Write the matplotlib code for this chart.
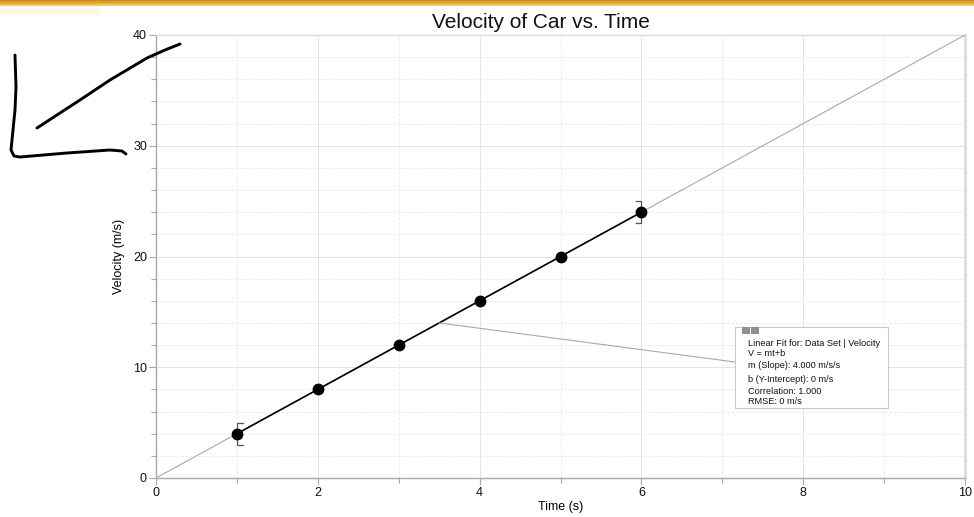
import matplotlib
matplotlib.use("Agg")
import matplotlib.pyplot as plt
import numpy as np
from matplotlib.lines import Line2D
from matplotlib.patches import Rectangle
from matplotlib.colors import LinearSegmentedColormap

plt.rcParams['font.family'] = ['Liberation Sans', 'DejaVu Sans']

# ---------------- data ----------------
time_s = [1, 2, 3, 4, 5, 6]
velocity = [4, 8, 12, 16, 20, 24]
err_x = [1, 6]
err_y = [4, 24]
err_size = [1, 1]
err_dir = [1, -1]          # bracket opening direction
fit_slope = 4.0
fit_intercept = 0.0
fit_range = [0, 10]
fit_data_range = [1, 6]
leader_start = [3.5, 14]
x_ticks = [0, 2, 4, 6, 8, 10]
y_ticks = [0, 10, 20, 30, 40]
box_lines = ["Linear Fit for: Data Set | Velocity", "V = mt+b",
             "m (Slope): 4.000 m/s/s", "b (Y-Intercept): 0 m/s",
             "Correlation: 1.000", "RMSE: 0 m/s"]
# hand-drawn arrow strokes (figure pixels, y from top)
stroke1 = [(37, 128), (60, 113), (80, 100), (110, 80), (147, 58), (165, 50), (180, 44)]
stroke2 = [(15, 55), (16, 87), (15, 110), (13, 130), (11, 150), (14, 156), (20, 157),
           (67, 153), (110, 150), (122, 151), (126, 154)]

W, H = 974, 517
fig = plt.figure(figsize=(W / 100, H / 100), dpi=100)

def fx(px):
    return px / W

def fy(py):
    return 1 - py / H

L, R, T, B = 156, 965, 35, 478
ax = fig.add_axes([fx(L), fy(B), fx(R) - fx(L), fy(T) - fy(B)])
ax.set_xlim(0, 10)
ax.set_ylim(0, 40)

# grid
ax.set_xticks(x_ticks)
ax.set_yticks(y_ticks)
ax.set_xticks(np.arange(0, 11, 1), minor=True)
ax.set_yticks(np.arange(0, 41, 2), minor=True)
ax.grid(which='major', color='#e4e4e4', lw=0.7, ls='-')
ax.grid(which='minor', color='#e8e8e8', lw=0.6, ls=(0, (3, 2)))
ax.set_axisbelow(True)

for s in ['left', 'bottom']:
    ax.spines[s].set_color('#a8a8a8')
    ax.spines[s].set_linewidth(1.0)
ax.spines['top'].set_color('#dcdcdc')
ax.spines['top'].set_linewidth(1.0)
ax.spines['right'].set_color('#dcdcdc')
ax.spines['right'].set_linewidth(2.0)

ax.tick_params(which='major', length=5, width=0.8, color='#a8a8a8',
               labelsize=9, labelcolor='#111111', pad=1.5)
ax.tick_params(which='minor', length=3.5, width=0.8, color='#a8a8a8')

# fit lines
fx_full = np.array(fit_range, dtype=float)
ax.plot(fx_full, fit_slope * fx_full + fit_intercept, color='#a8a8a8', lw=0.8, zorder=3)
fx_dat = np.array(fit_data_range, dtype=float)
ax.plot(fx_dat, fit_slope * fx_dat + fit_intercept, color='black', lw=1.2, zorder=4)

# error brackets
cap = 0.07
for x, y, e, d in zip(err_x, err_y, err_size, err_dir):
    ax.plot([x + d * cap, x, x, x + d * cap], [y - e, y - e, y + e, y + e],
            color='#555555', lw=0.9, zorder=4)

# points
ax.plot(time_s, velocity, 'o', color='black', ms=7.5, zorder=5)

# labels
ax.set_xlabel('Time (s)', fontsize=9, labelpad=1.5)
ax.set_ylabel('Velocity (m/s)', fontsize=9, labelpad=6)
fig.text(fx(541), fy(22), 'Velocity of Car vs. Time', fontsize=15,
         ha='center', va='center', color='#111111')

# annotation box (figure pixels)
bx0, by0, bx1, by1 = 735, 327, 888, 408
box = Rectangle((fx(bx0), fy(by1)), fx(bx1) - fx(bx0), fy(by0) - fy(by1),
                transform=fig.transFigure, facecolor='white', edgecolor='#c8c8c8',
                lw=0.8, zorder=10)
fig.patches.append(box)
for x0 in (742, 751):
    fig.patches.append(Rectangle((fx(x0), fy(334)), fx(8), fy(327) - fy(334),
                                 transform=fig.transFigure, facecolor='#909090',
                                 edgecolor='none', zorder=11))
line_y = [343, 353, 366, 380, 391, 401]
for txt, yy in zip(box_lines, line_y):
    fig.text(fx(748), fy(yy), txt, fontsize=6.6, ha='left', va='center',
             color='#111111', zorder=12)

# leader line
x0d, y0d = leader_start
p0 = ax.transData.transform((x0d, y0d))
fig.add_artist(Line2D([p0[0] / W, fx(bx0)], [p0[1] / H, fy(362)],
                      transform=fig.transFigure, color='#a8a8a8', lw=0.8, zorder=9))

# top gold strip
grad_ax = fig.add_axes([0, fy(6), 1, fy(0) - fy(6)])
grad = np.linspace(0, 1, 20).reshape(-1, 1)
cmap = LinearSegmentedColormap.from_list('gold', ['#c88a1c', '#e0ac30', '#f6d77a'])
grad_ax.imshow(grad, aspect='auto', cmap=cmap, extent=[0, 1, 0, 1])
grad_ax.axis('off')
fig.patches.append(Rectangle((0, fy(15)), fx(100), fy(6) - fy(15),
                             transform=fig.transFigure, facecolor='#fff8e2',
                             edgecolor='none', zorder=0))

# hand-drawn strokes
for st in (stroke1, stroke2):
    xs = [fx(p[0]) for p in st]
    ys = [fy(p[1]) for p in st]
    fig.add_artist(Line2D(xs, ys, transform=fig.transFigure, color='black',
                          lw=2.1, solid_capstyle='round', solid_joinstyle='round',
                          zorder=20))

fig.savefig('out.png', dpi=100)
